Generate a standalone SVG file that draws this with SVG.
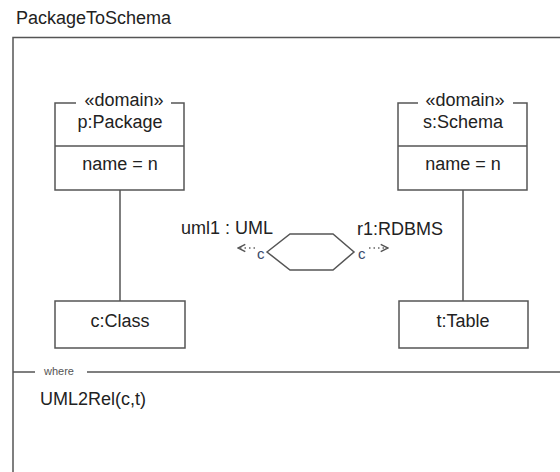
<svg xmlns="http://www.w3.org/2000/svg" width="560" height="472" viewBox="0 0 560 472">
  <defs>
    <style>
      .t { font-family: "Liberation Sans", Arial, sans-serif; font-size: 18px; fill: #222; }
      .mid { text-anchor: middle; }
      .small { font-family: "Liberation Sans", Arial, sans-serif; font-size: 11px; fill: #555; }
      .cmark { font-family: "Liberation Sans", Arial, sans-serif; font-size: 15px; fill: #3a4a6a; }
      .box { fill: #fff; stroke: #555; stroke-width: 1.5; }
      .ln { fill: none; stroke: #555; stroke-width: 1.5; }
      .dot { fill: none; stroke: #666; stroke-width: 1.3; stroke-dasharray: 1.5 3; }
    </style>
    <marker id="open" viewBox="0 0 10 10" refX="9" refY="5" markerWidth="7" markerHeight="7" orient="auto">
      <path d="M1,1 L9,5 L1,9" fill="none" stroke="#555" stroke-width="1.6"/>
    </marker>
  </defs>

  <rect width="560" height="472" fill="#fff"/>

  <!-- transformation frame -->
  <g id="frame">
    <text class="t" x="16" y="24">PackageToSchema</text>
    <path class="ln" d="M13,472 L13,37.5 L560,37.5"/>
    <path class="ln" d="M13,372 L35,372 M87,372 L560,372"/>
    <text class="small" x="44" y="375">where</text>
    <text class="t" x="40" y="405">UML2Rel(c,t)</text>
  </g>

  <!-- connectors -->
  <g id="connectors">
    <line class="ln" x1="120" y1="190" x2="120" y2="301"/>
    <line class="ln" x1="463" y1="190" x2="463" y2="301"/>
    <line class="dot" x1="255" y1="248" x2="238" y2="248" marker-end="url(#open)"/>
    <line class="dot" x1="369" y1="248" x2="388" y2="248" marker-end="url(#open)"/>
  </g>

  <!-- domain p:Package -->
  <g id="package">
    <rect class="box" x="55" y="103" width="129" height="87"/>
    <line x1="76" y1="103" x2="171" y2="103" stroke="#fff" stroke-width="3"/>
    <line class="ln" x1="55" y1="146" x2="184" y2="146"/>
    <text class="t mid" x="124" y="106">«domain»</text>
    <text class="t mid" x="120" y="128">p:Package</text>
    <text class="t mid" x="120" y="170">name = n</text>
  </g>

  <!-- domain s:Schema -->
  <g id="schema">
    <rect class="box" x="398" y="103" width="129" height="87"/>
    <line x1="418" y1="103" x2="513" y2="103" stroke="#fff" stroke-width="3"/>
    <line class="ln" x1="398" y1="146" x2="527" y2="146"/>
    <text class="t mid" x="465" y="106">«domain»</text>
    <text class="t mid" x="463" y="128">s:Schema</text>
    <text class="t mid" x="463" y="170">name = n</text>
  </g>

  <!-- relation hexagon -->
  <g id="relation">
    <polygon class="ln" points="267,252 290,234 333,234 354,252 333,270 290,270"/>
    <text class="t" x="181" y="234">uml1 : UML</text>
    <text class="t" x="357" y="235">r1:RDBMS</text>
    <text class="cmark" x="257" y="259">c</text>
    <text class="cmark" x="358" y="259">c</text>
  </g>

  <!-- c:Class -->
  <g id="class">
    <rect class="box" x="55" y="301" width="130" height="47"/>
    <text class="t mid" x="120" y="327">c:Class</text>
  </g>

  <!-- t:Table -->
  <g id="table">
    <rect class="box" x="399" y="301" width="129" height="47"/>
    <text class="t mid" x="463" y="327">t:Table</text>
  </g>
</svg>
